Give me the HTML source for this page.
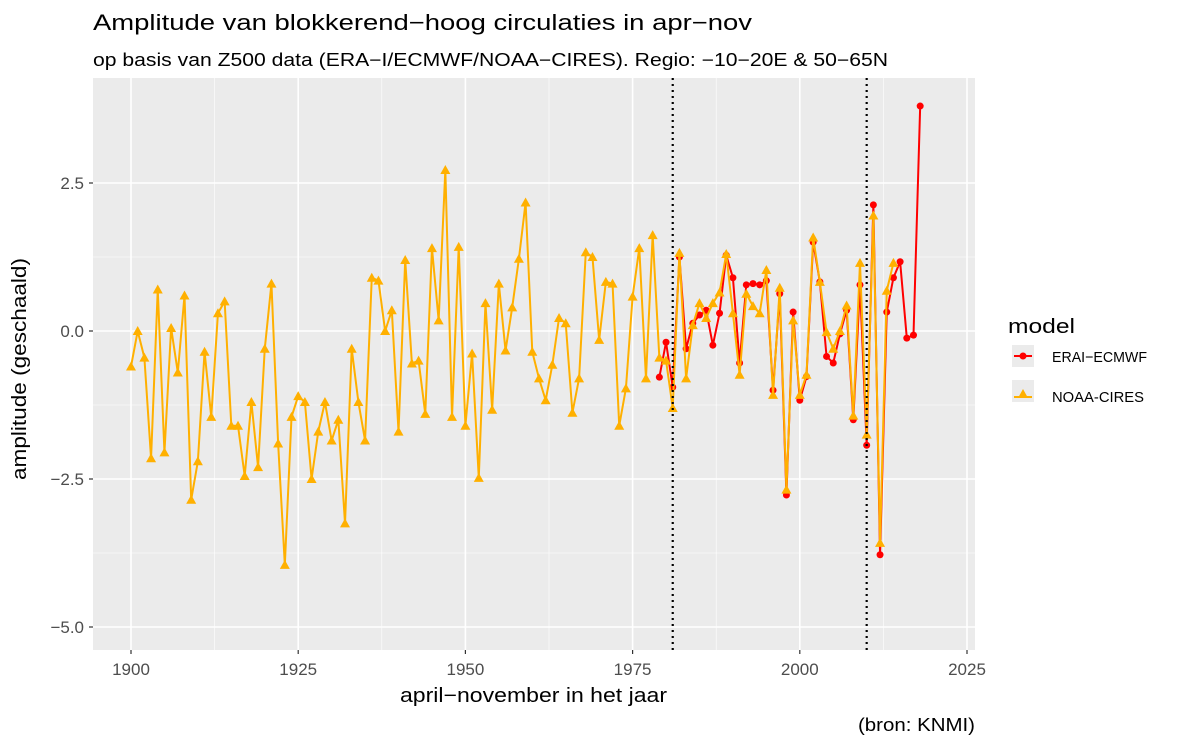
<!DOCTYPE html>
<html><head><meta charset="utf-8"><style>
body{margin:0;background:#fff;width:1200px;height:750px;overflow:hidden;font-family:"Liberation Sans",sans-serif}
</style></head><body>
<svg id="chart" width="1200" height="750" xmlns="http://www.w3.org/2000/svg" font-family="Liberation Sans, sans-serif">
<rect x="93" y="78" width="882" height="572" fill="#ebebeb"/>
<text x="93" y="30" font-size="22" textLength="659" lengthAdjust="spacingAndGlyphs" fill="#000">Amplitude van blokkerend−hoog circulaties in apr−nov</text>
<text x="93" y="66" font-size="18" textLength="795" lengthAdjust="spacingAndGlyphs" fill="#000">op basis van Z500 data (ERA−I/ECMWF/NOAA−CIRES). Regio: −10−20E &amp; 50−65N</text>
<g id="grid"></g><g id="axes"></g><g id="series"></g>
<text x="26" y="369" font-size="20" textLength="222" lengthAdjust="spacingAndGlyphs" text-anchor="middle" transform="rotate(-90 26 369)">amplitude (geschaald)</text>
<text x="400" y="702" font-size="20" textLength="267" lengthAdjust="spacingAndGlyphs">april−november in het jaar</text>
<text x="858" y="731" font-size="18" textLength="117" lengthAdjust="spacingAndGlyphs">(bron: KNMI)</text>
<g>
<text x="1008" y="333" font-size="20" textLength="67" lengthAdjust="spacingAndGlyphs">model</text>
<g>
<rect x="1012" y="345" width="22" height="22" fill="#ebebeb"/>
<line x1="1014" y1="356" x2="1032" y2="356" stroke="#ff0000" stroke-width="2"/>
<circle cx="1023" cy="356" r="3.5" fill="#ff0000"/>
<text x="1052" y="362" font-size="15" textLength="95" lengthAdjust="spacingAndGlyphs">ERAI−ECMWF</text></g>
<g>
<rect x="1012" y="380" width="22" height="22" fill="#ebebeb"/>
<line x1="1014" y1="397" x2="1032" y2="397" stroke="#ffb000" stroke-width="2"/>
<polygon points="1023,389 1028,398 1018,398" fill="#ffb000"/>
<text x="1052" y="402" font-size="15" textLength="92" lengthAdjust="spacingAndGlyphs">NOAA-CIRES</text></g>
</g>
</svg>
<script>
const xTicks=[1900,1925,1950,1975,2000,2025];
const yTicks=[2.5,0,-2.5,-5];
const yTickLabels=["2.5","0.0","-2.5","-5.0"];
const vLines=[1981,2010];
const noaaStart=1900;
const noaaValues=[-0.6,0.0,-0.45,-2.15,0.7,-2.05,0.05,-0.7,0.6,-2.85,-2.2,-0.35,-1.45,0.3,0.5,-1.6,-1.6,-2.45,-1.2,-2.3,-0.3,0.8,-1.9,-3.95,-1.45,-1.1,-1.2,-2.5,-1.7,-1.2,-1.85,-1.5,-3.25,-0.3,-1.2,-1.85,0.9,0.85,0.0,0.35,-1.7,1.2,-0.55,-0.5,-1.4,1.4,0.18,2.72,-1.45,1.42,-1.6,-0.38,-2.48,0.47,-1.33,0.8,-0.33,0.4,1.22,2.17,-0.35,-0.8,-1.17,-0.57,0.22,0.13,-1.38,-0.8,1.33,1.25,-0.15,0.83,0.8,-1.6,-0.97,0.58,1.4,-0.8,1.62,-0.45,-0.5,-1.3,1.32,-0.8,0.1,0.47,0.22,0.47,0.65,1.3,0.3,-0.74,0.63,0.42,0.3,1.03,-1.08,0.73,-2.68,0.18,-1.08,-0.74,1.58,0.83,-0.02,-0.3,0.0,0.43,-1.43,1.15,-1.75,1.95,-3.58,0.68,1.15];
const eraStart=1979;
const eraValues=[-0.78,-0.19,-0.95,1.25,-0.3,0.13,0.27,0.35,-0.24,0.3,1.28,0.9,-0.54,0.78,0.8,0.78,0.85,-1.0,0.63,-2.77,0.32,-1.17,-0.77,1.5,0.83,-0.43,-0.54,-0.05,0.35,-1.5,0.78,-1.93,2.13,-3.78,0.32,0.9,1.17,-0.12,-0.07,3.8];
const NS="http://www.w3.org/2000/svg";
const TOP=78,BOT=650;
const X=y=>131+(y-1900)*6.688;
const Y=v=>331-v*59.2;
function mk(tag,attrs,parent){const e=document.createElementNS(NS,tag);for(const k in attrs)e.setAttribute(k,attrs[k]);parent.appendChild(e);return e;}
const grid=document.getElementById('grid'),axes=document.getElementById('axes'),ser=document.getElementById('series');
for(let i=0;i<xTicks.length-1;i++){const m=(xTicks[i]+xTicks[i+1])/2;const l=mk('line',{x1:X(m),x2:X(m),y1:TOP,y2:BOT,stroke:'#fff','stroke-width':0.6},grid);

}
for(let i=0;i<yTicks.length-1;i++){const m=(yTicks[i]+yTicks[i+1])/2;const l=mk('line',{x1:93,x2:975,y1:Y(m),y2:Y(m),stroke:'#fff','stroke-width':0.6},grid);

}
xTicks.forEach(t=>{const l=mk('line',{x1:X(t),x2:X(t),y1:TOP,y2:BOT,stroke:'#fff','stroke-width':1.6},grid);


mk('line',{x1:X(t),x2:X(t),y1:650,y2:654,stroke:'#333','stroke-width':1.2},axes);
const tx=mk('text',{x:X(t),y:675,'font-size':17,fill:'#4d4d4d','text-anchor':'middle'},axes);tx.textContent=t;

});
yTicks.forEach((t,i)=>{const l=mk('line',{x1:93,x2:975,y1:Y(t),y2:Y(t),stroke:'#fff','stroke-width':1.6},grid);


mk('line',{x1:89,x2:93,y1:Y(t),y2:Y(t),stroke:'#333','stroke-width':1.2},axes);
const tx=mk('text',{x:84,y:Y(t)+6,'font-size':17,fill:'#4d4d4d','text-anchor':'end'},axes);tx.textContent=yTickLabels[i].replace('-','−');

});
function series(start,vals,color,shape,name){
const pts=vals.map((v,i)=>[X(start+i),Y(v)]);
const pl=mk('polyline',{points:pts.map(p=>p.join(',')).join(' '),fill:'none',stroke:color,'stroke-width':2,'stroke-linejoin':'round'},ser);


pts.forEach(p=>{let e;
if(shape==='c')e=mk('circle',{cx:p[0],cy:p[1],r:3.5,fill:color},ser);
else e=mk('polygon',{points:`${p[0]},${p[1]-5} ${p[0]+5},${p[1]+4} ${p[0]-5},${p[1]+4}`,fill:color},ser);

});}
series(eraStart,eraValues,'#ff0000','c','erai-ecmwf');
series(noaaStart,noaaValues,'#ffb000','t','noaa-cires');
vLines.forEach(v=>{const l=mk('line',{x1:X(v),x2:X(v),y1:TOP,y2:BOT,stroke:'#000','stroke-width':2.2,'stroke-dasharray':'2,4'},ser);

});
</script>
</body></html>
